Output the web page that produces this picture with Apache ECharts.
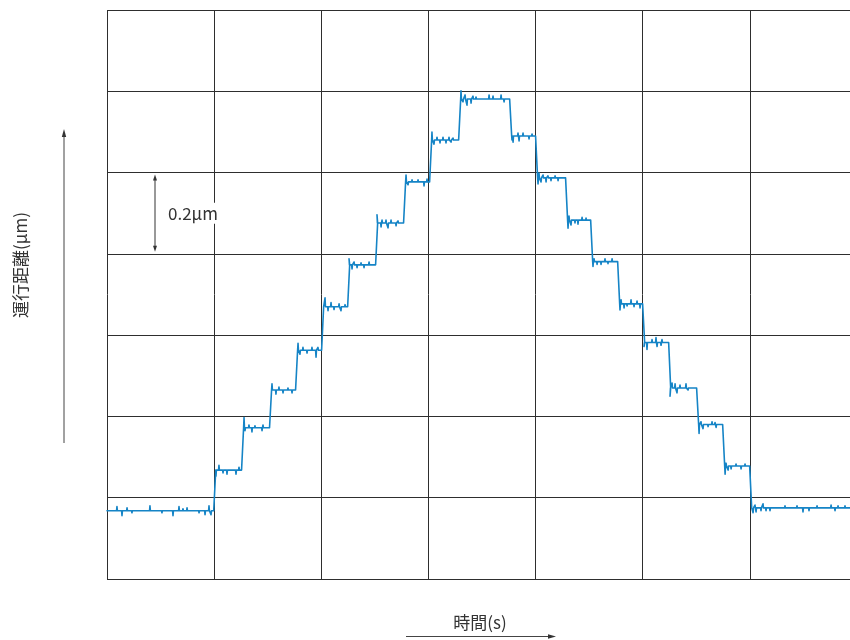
<!DOCTYPE html>
<html>
<head>
<meta charset="utf-8">
<script src="https://cdn.jsdelivr.net/npm/echarts@6/dist/echarts.min.js"></script>
<style>
  html, body { margin: 0; padding: 0; background: #fff; }
  #chart { width: 850px; height: 640px; }
</style>
</head>
<body>
<div id="chart"></div>
<script>
// Stage motion: travel distance (µm) over time (s), one division = 0.2 µm.
// Time at which each plateau begins (s, in grid divisions).
const stepTimes = [0, 1.000, 1.260, 1.521, 1.764, 2.007, 2.250, 2.511, 2.772, 3.015, 3.286,
                   3.762, 4.004, 4.284, 4.518, 4.770, 5.003, 5.246, 5.507, 5.750, 6.002];
// Plateau height (µm).
const stepLevels = [0.168, 0.268, 0.372, 0.465, 0.563, 0.670, 0.773, 0.876, 0.977, 1.080, 1.181,
                    1.090, 0.987, 0.883, 0.781, 0.677, 0.582, 0.470, 0.380, 0.278, 0.175];
const endTime = 6.935;
// Noise spikes on each plateau: [time, deviation from plateau (µm)].
const stepSpikes = [
  [[0.093, 0.010], [0.140, -0.012], [0.187, 0.007], [0.233, -0.005], [0.401, 0.012], [0.513, -0.005],
   [0.616, -0.012], [0.672, 0.010], [0.709, 0.005], [0.747, 0.007], [0.859, -0.005], [0.915, -0.010],
   [0.952, 0.012], [0.971, -0.010]],
  [[1.017, -0.015], [1.045, 0.012], [1.083, -0.007], [1.120, -0.010], [1.204, -0.010], [1.232, 0.007]],
  [[1.279, 0.025], [1.288, -0.007], [1.325, 0.007], [1.353, -0.010], [1.381, 0.005], [1.447, -0.007], [1.456, 0.007]],
  [[1.540, 0.015], [1.577, -0.010], [1.605, 0.007], [1.643, -0.007], [1.689, 0.005], [1.727, -0.007]],
  [[1.783, 0.017], [1.801, -0.010], [1.829, 0.007], [1.867, -0.007], [1.913, 0.007], [1.951, -0.017], [1.969, 0.007]],
  [[2.035, 0.022], [2.063, -0.010], [2.091, 0.010], [2.119, -0.007], [2.166, 0.007], [2.184, -0.010], [2.222, 0.005]],
  [[2.259, 0.015], [2.287, -0.010], [2.306, 0.007], [2.334, -0.007], [2.371, 0.005], [2.399, -0.007], [2.446, 0.007]],
  [[2.520, 0.020], [2.558, -0.010], [2.567, 0.007], [2.604, 0.007], [2.623, -0.012], [2.651, 0.007], [2.698, -0.007], [2.716, 0.005]],
  [[2.791, 0.017], [2.810, -0.007], [2.847, 0.005], [2.903, 0.005], [2.959, -0.010], [2.987, 0.007]],
  [[3.033, 0.020], [3.052, -0.010], [3.080, 0.007], [3.108, -0.007], [3.136, 0.007], [3.164, -0.007], [3.192, 0.007],
   [3.211, -0.005], [3.230, 0.005]],
  [[3.304, 0.020], [3.323, -0.007], [3.342, 0.010], [3.360, -0.015], [3.398, -0.010], [3.416, 0.007], [3.444, 0.005],
   [3.566, 0.010], [3.603, 0.007], [3.678, 0.010], [3.706, -0.007]],
  [[3.780, -0.010], [3.790, -0.015], [3.836, 0.007], [3.846, -0.012], [3.883, 0.007], [3.939, -0.007], [3.967, 0.005]],
  [[4.023, -0.015], [4.032, 0.012], [4.051, -0.010], [4.070, 0.007], [4.098, -0.010], [4.116, 0.005], [4.144, -0.007],
   [4.182, 0.005], [4.210, -0.007]],
  [[4.303, -0.020], [4.312, 0.010], [4.331, -0.012], [4.368, -0.007], [4.396, -0.010], [4.434, 0.007], [4.471, 0.005]],
  [[4.536, -0.012], [4.546, 0.007], [4.574, -0.007], [4.611, -0.007], [4.648, 0.007], [4.676, -0.005], [4.714, 0.007]],
  [[4.788, -0.015], [4.798, 0.010], [4.826, -0.010], [4.854, -0.005], [4.891, 0.010], [4.919, -0.007], [4.947, 0.007], [4.975, -0.010]],
  [[5.012, -0.010], [5.040, -0.017], [5.087, 0.007], [5.124, 0.012], [5.134, -0.010], [5.171, -0.007], [5.180, 0.007]],
  [[5.255, -0.020], [5.274, 0.012], [5.302, 0.010], [5.320, -0.012], [5.348, 0.007], [5.404, 0.010], [5.423, -0.005]],
  [[5.526, -0.022], [5.544, 0.007], [5.563, -0.010], [5.610, -0.005], [5.647, 0.007], [5.675, 0.005], [5.685, -0.007]],
  [[5.769, -0.020], [5.778, 0.007], [5.797, -0.010], [5.825, -0.007], [5.871, 0.005], [5.918, -0.007], [5.955, 0.005]],
  [[6.030, -0.012], [6.048, 0.007], [6.058, -0.010], [6.104, -0.007], [6.123, 0.010], [6.151, -0.007], [6.188, -0.007],
   [6.328, 0.005], [6.440, 0.005], [6.496, -0.010], [6.552, -0.007], [6.627, 0.005], [6.758, 0.007], [6.795, -0.007],
   [6.823, 0.005], [6.888, 0.005]]
];

// Build the trace: flat plateaus with narrow spikes, joined by short ramps.
const trace = [];
stepLevels.forEach((level, i) => {
  const start = i === 0 ? 0 : stepTimes[i] + 0.015;
  const end = i + 1 < stepTimes.length ? stepTimes[i + 1] - 0.004 : endTime;
  trace.push([start, level]);
  stepSpikes[i].forEach(([t, dv]) => {
    trace.push([t - 0.004, level], [t, +(level + dv).toFixed(4)], [t + 0.004, level]);
  });
  trace.push([end, level]);
});

const chart = echarts.init(document.getElementById('chart'), null, { renderer: 'canvas' });
const gridStyle = { color: '#2e2e2e', width: 1 };
const textFont = '"Noto Sans CJK JP", "Noto Sans", sans-serif';

chart.setOption({
  animation: false,
  backgroundColor: '#ffffff',
  // the last column runs past the right edge of the canvas
  grid: { left: 107, top: 10, width: 750, height: 569, outerBoundsMode: 'none', containLabel: false },
  xAxis: {
    type: 'value', min: 0, max: 7, interval: 1,
    axisLine: { show: false }, axisTick: { show: false }, axisLabel: { show: false },
    splitLine: { show: true, lineStyle: gridStyle }
  },
  yAxis: {
    type: 'value', min: 0, max: 1.4, interval: 0.2,
    axisLine: { show: false }, axisTick: { show: false }, axisLabel: { show: false },
    splitLine: { show: true, lineStyle: gridStyle }
  },
  series: [{
    type: 'line',
    data: trace,
    showSymbol: false,
    symbol: 'none',
    lineStyle: { color: '#1584c6', width: 1.6, join: 'round', cap: 'round' },
    z: 3
  }]
});

// Scale bar for one division (0.2 µm) and the axis captions with arrows.
const p = (t, v) => chart.convertToPixel({ gridIndex: 0 }, [t, v]);
const barTop = p(0.448, 0.995), barBot = p(0.448, 0.805), barText = p(0.56, 0.9);
const ink = '#333';
chart.setOption({
  graphic: [
    { type: 'line', shape: { x1: barTop[0], y1: barTop[1] + 4, x2: barBot[0], y2: barBot[1] - 4 },
      style: { stroke: ink, lineWidth: 1 }, z: 10 },
    { type: 'polygon', shape: { points: [[barTop[0], barTop[1]], [barTop[0] - 2, barTop[1] + 6], [barTop[0] + 2, barTop[1] + 6]] },
      style: { fill: ink }, z: 10 },
    { type: 'polygon', shape: { points: [[barBot[0], barBot[1]], [barBot[0] - 2, barBot[1] - 6], [barBot[0] + 2, barBot[1] - 6]] },
      style: { fill: ink }, z: 10 },
    { type: 'text', x: barText[0], y: barText[1], z: 10,
      style: { text: '0.2μm', fill: ink, font: '17px ' + textFont, textAlign: 'left', textVerticalAlign: 'middle',
               backgroundColor: '#fff', padding: [2, 1, 2, 1] } },
    // vertical caption with upward arrow
    { type: 'text', x: 21, y: 265, rotation: Math.PI / 2, z: 10,
      style: { text: '運行距離(μm)', fill: ink, font: '17px ' + textFont, textAlign: 'center', textVerticalAlign: 'middle' } },
    { type: 'line', shape: { x1: 64, y1: 443, x2: 64, y2: 135 }, style: { stroke: '#444', lineWidth: 1 }, z: 10 },
    { type: 'polygon', shape: { points: [[64, 129], [61.8, 137], [66.2, 137]] }, style: { fill: '#333' }, z: 10 },
    // horizontal caption with rightward arrow
    { type: 'text', x: 480, y: 623, z: 10,
      style: { text: '時間(s)', fill: ink, font: '17px ' + textFont, textAlign: 'center', textVerticalAlign: 'middle' } },
    { type: 'line', shape: { x1: 406, y1: 636.5, x2: 550, y2: 636.5 }, style: { stroke: '#444', lineWidth: 1 }, z: 10 },
    { type: 'polygon', shape: { points: [[556, 636.5], [548, 634.3], [548, 638.7]] }, style: { fill: '#333' }, z: 10 }
  ]
});
</script>
</body>
</html>
